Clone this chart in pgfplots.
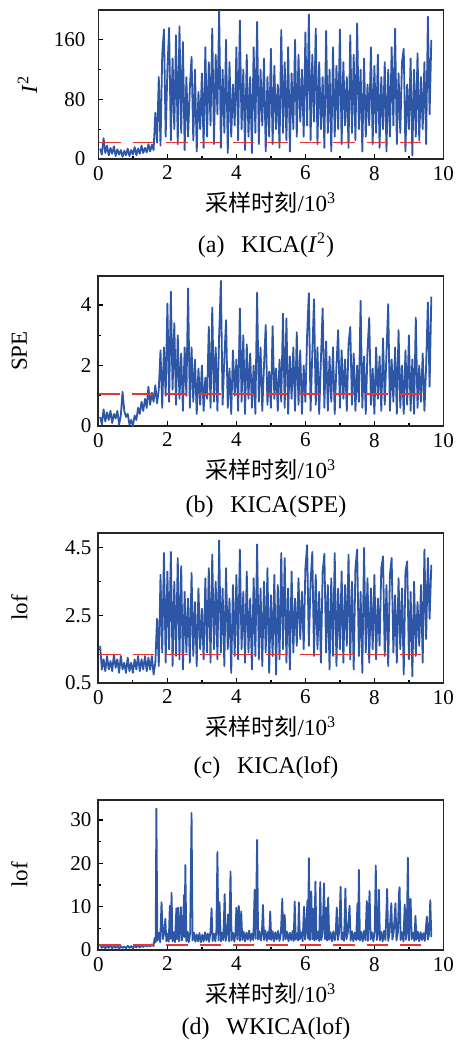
\documentclass[border=0pt]{standalone}
\usepackage{fontspec}
\setmainfont{Liberation Serif}
\newfontfamily\cjk{Noto Sans CJK SC}
\usepackage{pgfplots}
\pgfplotsset{compat=1.18}

\definecolor{lineblue}{HTML}{2D56A6}
\definecolor{limred}{HTML}{E63535}

\pgfplotsset{
  panel/.style={
    scale only axis,
    width=172.5pt, height=75pt,
    xmin=0, xmax=10,
    xtick={0,2,...,10},
    minor x tick num=1, minor y tick num=1,
    tick align=inside, tick pos=left,
    major tick length=2.5pt, minor tick length=1.5pt,
    tick style={line width=0.6pt, black},
    axis line style={line width=0.9pt, black!85},
    tick label style={font=\fontsize{10.5}{12}\selectfont},
    /pgf/number format/assume math mode=true,
    xlabel={{\cjk 采样时刻}/10\textsuperscript{3}},
    label style={font=\fontsize{11.5}{13}\selectfont},
    xlabel style={at={(axis description cs:0.5,0)}, anchor=center, yshift=-22pt},
    ylabel style={at={(axis description cs:-0.229,0.5)}, anchor=center},
    anchor=south west,
  },
  sig/.style={lineblue, line width=0.9pt, line join=round},
  lim/.style={limred, line width=0.8pt, dash pattern=on 10.7pt off 6pt},
}

\begin{document}
\begin{tikzpicture}[font=\fontsize{12}{14}\selectfont]
\path[use as bounding box] (0,0) rectangle (228pt,-522pt);

%--------------------------------------------------
% (a) KICA(I^2)
%--------------------------------------------------
\begin{axis}[panel, at={(49.2pt,-79.5pt)}, height=74.5pt,
    ymin=0, ymax=200, ytick={0,80,160},
    ylabel={\textit{I}\textsuperscript{2}},
    ylabel style={at={(axis description cs:-0.206,0.5)}},
    yticklabel style={xshift=-3pt}]
\addplot[sig] coordinates {
(0.05,14)(0.10,6)(0.15,28)(0.20,8)(0.25,18)(0.30,5)(0.35,15)(0.40,7)(0.45,17)(0.50,4)
(0.55,13)(0.60,6)(0.65,12)(0.70,3)(0.75,11)(0.80,5)(0.85,14)(0.90,4)(0.95,12)(1.00,6)
(1.05,16)(1.10,5)(1.15,14)(1.20,7)(1.25,18)(1.30,8)(1.35,15)(1.40,9)(1.45,20)(1.50,10)
(1.55,19)(1.60,12)(1.65,62)(1.70,22)(1.75,110)(1.80,18)(1.85,140)(1.90,174)(1.95,30)(2.00,120)
(2.05,176)(2.10,25)(2.15,135)(2.20,40)(2.25,166)(2.30,20)(2.35,178)(2.40,35)(2.45,157)(2.50,12)
(2.55,110)(2.60,30)(2.65,95)(2.70,137)(2.75,25)(2.80,120)(2.85,10)(2.90,90)(2.95,40)(3.00,115)
(3.05,15)(3.10,150)(3.15,30)(3.20,130)(3.25,45)(3.30,175)(3.35,20)(3.40,140)(3.45,60)(3.50,199)
(3.55,15)(3.60,120)(3.65,35)(3.70,160)(3.75,8)(3.80,130)(3.85,30)(3.90,100)(3.95,45)(4.00,150)
(4.05,25)(4.10,186)(4.15,40)(4.20,120)(4.25,12)(4.30,140)(4.35,30)(4.40,110)(4.45,8)(4.50,150)
(4.55,35)(4.60,184)(4.65,20)(4.70,120)(4.75,45)(4.80,135)(4.85,10)(4.90,110)(4.95,30)(5.00,148)
(5.05,20)(5.10,125)(5.15,40)(5.20,100)(5.25,15)(5.30,173)(5.35,35)(5.40,130)(5.45,25)(5.50,150)
(5.55,10)(5.60,115)(5.65,40)(5.70,160)(5.75,30)(5.80,140)(5.85,50)(5.90,120)(5.95,30)(6.00,170)
(6.05,45)(6.10,194)(6.15,25)(6.20,140)(6.25,50)(6.30,175)(6.35,20)(6.40,130)(6.45,40)(6.50,110)
(6.55,15)(6.60,172)(6.65,35)(6.70,120)(6.75,10)(6.80,150)(6.85,30)(6.90,125)(6.95,40)(7.00,174)
(7.05,20)(7.10,130)(7.15,45)(7.20,110)(7.25,15)(7.30,166)(7.35,35)(7.40,140)(7.45,25)(7.50,182)
(7.55,40)(7.60,120)(7.65,10)(7.70,135)(7.75,30)(7.80,100)(7.85,45)(7.90,150)(7.95,20)(8.00,125)
(8.05,35)(8.10,140)(8.15,15)(8.20,110)(8.25,40)(8.30,130)(8.35,10)(8.40,120)(8.45,30)(8.50,150)
(8.55,45)(8.60,175)(8.65,20)(8.70,115)(8.75,35)(8.80,130)(8.85,148)(8.90,10)(8.95,100)(9.00,40)
(9.05,135)(9.10,5)(9.15,120)(9.20,30)(9.25,142)(9.30,25)(9.35,110)(9.40,40)(9.45,130)(9.50,20)
(9.55,191)(9.60,60)(9.65,160)
};
\addplot[lim] coordinates {(0.03,22) (9.36,22)};
\end{axis}
\node at (133pt,-122.5pt) {(a)\hspace{0.7em}KICA(\textit{I}\textsuperscript{2})};

%--------------------------------------------------
% (b) KICA(SPE)
%--------------------------------------------------
\begin{axis}[panel, at={(49.2pt,-213pt)},
    ymin=0, ymax=4.96, ytick={0,2,4},
    ylabel={SPE}]
\addplot[sig] coordinates {
(0.05,0.3)(0.10,0.05)(0.15,0.55)(0.20,0.15)(0.25,0.45)(0.30,0.2)(0.35,0.5)(0.40,0.1)(0.45,0.4)(0.50,0.25)
(0.55,0.5)(0.60,0.05)(0.65,0.35)(0.70,1.13)(0.75,0.5)(0.80,0.3)(0.85,0.4)(0.90,0.05)(0.95,0.2)(1.00,0.0)
(1.05,0.35)(1.10,0.2)(1.15,0.6)(1.20,0.4)(1.25,0.8)(1.30,0.5)(1.35,0.9)(1.40,0.6)(1.45,1.3)(1.50,0.7)
(1.55,1.1)(1.60,0.8)(1.65,1.35)(1.70,0.75)(1.75,1.2)(1.80,2.5)(1.85,0.6)(1.90,2.6)(1.95,1.0)(2.00,4.05)
(2.05,0.8)(2.10,4.44)(2.15,1.2)(2.20,3.4)(2.25,0.7)(2.30,3.0)(2.35,0.9)(2.40,2.4)(2.45,0.5)(2.50,2.6)
(2.55,1.0)(2.60,4.55)(2.65,0.6)(2.70,2.6)(2.75,0.8)(2.80,2.2)(2.85,0.4)(2.90,1.9)(2.95,0.7)(3.00,2.0)
(3.05,0.5)(3.10,1.6)(3.15,0.9)(3.20,3.28)(3.25,0.6)(3.30,3.92)(3.35,0.8)(3.40,2.6)(3.45,0.5)(3.50,3.0)
(3.55,4.8)(3.60,0.7)(3.65,2.2)(3.70,3.5)(3.75,0.6)(3.80,1.9)(3.85,0.4)(3.90,2.5)(3.95,1.0)(4.00,2.2)
(4.05,0.5)(4.10,3.89)(4.15,0.8)(4.20,3.0)(4.25,0.4)(4.30,2.7)(4.35,0.9)(4.40,2.4)(4.45,0.6)(4.50,2.0)
(4.55,0.4)(4.60,4.41)(4.65,0.8)(4.70,2.6)(4.75,0.5)(4.80,2.0)(4.85,3.34)(4.90,0.7)(4.95,1.8)(5.00,0.6)
(5.05,3.3)(5.10,0.9)(5.15,1.9)(5.20,0.5)(5.25,2.2)(5.30,0.8)(5.35,3.72)(5.40,0.6)(5.45,3.56)(5.50,0.4)
(5.55,2.3)(5.60,0.9)(5.65,2.6)(5.70,0.5)(5.75,3.1)(5.80,0.7)(5.85,2.5)(5.90,0.4)(5.95,2.0)(6.00,0.8)
(6.05,3.0)(6.10,4.39)(6.15,0.5)(6.20,2.4)(6.25,4.19)(6.30,0.7)(6.35,2.6)(6.40,0.4)(6.45,2.2)(6.50,3.89)
(6.55,0.6)(6.60,2.8)(6.65,0.5)(6.70,2.3)(6.75,0.8)(6.80,2.6)(6.85,0.4)(6.90,2.0)(6.95,3.17)(7.00,0.6)
(7.05,2.5)(7.10,0.9)(7.15,2.2)(7.20,0.5)(7.25,2.7)(7.30,3.28)(7.35,0.7)(7.40,2.4)(7.45,0.5)(7.50,2.0)
(7.55,0.8)(7.60,4.14)(7.65,0.6)(7.70,2.3)(7.75,0.4)(7.80,2.5)(7.85,3.58)(7.90,0.7)(7.95,1.9)(8.00,0.4)
(8.05,2.6)(8.10,0.9)(8.15,2.3)(8.20,0.5)(8.25,2.9)(8.30,0.7)(8.35,2.4)(8.40,4.03)(8.45,0.5)(8.50,2.2)
(8.55,0.8)(8.60,2.6)(8.65,0.4)(8.70,3.17)(8.75,0.6)(8.80,2.0)(8.85,0.4)(8.90,2.5)(8.95,0.7)(9.00,3.0)
(9.05,0.5)(9.10,2.2)(9.15,0.4)(9.20,3.58)(9.25,0.6)(9.30,2.0)(9.35,0.8)(9.40,2.4)(9.45,0.5)(9.50,2.0)
(9.55,4.09)(9.60,1.3)(9.65,4.28)
};
\addplot[lim] coordinates {(0.02,1.06) (9.45,1.06)};
\end{axis}
\node at (133pt,-253.5pt) {(b)\hspace{0.7em}KICA(SPE)};

%--------------------------------------------------
% (c) KICA(lof)
%--------------------------------------------------
\begin{axis}[panel, at={(49.2pt,-341.5pt)},
    ymin=0.5, ymax=4.94, ytick={0.5,2.5,4.5},
    yticklabel style={/pgf/number format/.cd, fixed, fixed zerofill, precision=1},
    ylabel={lof}]
\addplot[sig] coordinates {
(0.05,1.6)(0.10,0.9)(0.15,1.2)(0.20,0.85)(0.25,1.3)(0.30,0.9)(0.35,1.15)(0.40,0.85)(0.45,1.35)(0.50,0.95)
(0.55,1.2)(0.60,0.8)(0.65,1.3)(0.70,0.9)(0.75,1.1)(0.80,0.8)(0.85,1.25)(0.90,0.85)(0.95,1.1)(1.00,0.8)
(1.05,1.2)(1.10,0.9)(1.15,1.3)(1.20,0.85)(1.25,1.2)(1.30,0.9)(1.35,1.3)(1.40,0.85)(1.45,1.25)(1.50,0.9)
(1.55,1.3)(1.60,0.75)(1.65,1.1)(1.70,2.4)(1.75,1.0)(1.80,3.7)(1.85,1.4)(1.90,4.35)(1.95,1.1)(2.00,3.8)
(2.05,1.5)(2.10,4.38)(2.15,1.0)(2.20,3.5)(2.25,1.3)(2.30,4.2)(2.35,1.2)(2.40,3.96)(2.45,0.9)(2.50,3.2)
(2.55,1.4)(2.60,3.0)(2.65,1.1)(2.70,3.76)(2.75,1.3)(2.80,2.9)(2.85,1.0)(2.90,3.3)(2.95,1.5)(3.00,2.7)
(3.05,1.2)(3.10,3.6)(3.15,1.4)(3.20,3.9)(3.25,1.1)(3.30,4.3)(3.35,1.5)(3.40,3.5)(3.45,1.2)(3.50,4.72)
(3.55,1.4)(3.60,3.3)(3.65,1.0)(3.70,3.9)(3.75,1.5)(3.80,3.0)(3.85,0.8)(3.90,3.4)(3.95,1.3)(4.00,3.7)
(4.05,1.2)(4.10,4.45)(4.15,1.5)(4.20,3.2)(4.25,1.1)(4.30,3.8)(4.35,1.4)(4.40,3.0)(4.45,0.9)(4.50,3.6)
(4.55,1.3)(4.60,4.6)(4.65,1.2)(4.70,3.3)(4.75,1.0)(4.80,3.5)(4.85,1.4)(4.90,3.9)(4.95,0.8)(5.00,3.1)
(5.05,1.3)(5.10,3.7)(5.15,0.75)(5.20,3.4)(5.25,1.2)(5.30,4.35)(5.35,1.5)(5.40,4.2)(5.45,1.1)(5.50,3.3)
(5.55,0.9)(5.60,3.8)(5.65,1.4)(5.70,3.0)(5.75,1.6)(5.80,3.6)(5.85,1.8)(5.90,3.2)(5.95,1.5)(6.00,3.9)
(6.05,4.58)(6.10,1.6)(6.15,3.5)(6.20,4.38)(6.25,1.3)(6.30,3.7)(6.35,1.5)(6.40,3.2)(6.45,1.1)(6.50,3.8)
(6.55,4.32)(6.60,1.4)(6.65,3.4)(6.70,0.9)(6.75,3.6)(6.80,1.3)(6.85,4.35)(6.90,1.0)(6.95,3.3)(7.00,1.5)
(7.05,3.8)(7.10,1.1)(7.15,3.4)(7.20,1.6)(7.25,4.3)(7.30,1.2)(7.35,3.5)(7.40,0.9)(7.45,3.9)(7.50,4.45)
(7.55,1.3)(7.60,3.2)(7.65,0.8)(7.70,4.5)(7.75,1.4)(7.80,3.6)(7.85,1.1)(7.90,3.3)(7.95,1.5)(8.00,3.7)
(8.05,1.2)(8.10,3.0)(8.15,1.6)(8.20,3.9)(8.25,4.25)(8.30,1.3)(8.35,3.4)(8.40,1.0)(8.45,3.7)(8.50,4.2)
(8.55,1.4)(8.60,3.1)(8.65,1.1)(8.70,3.6)(8.75,1.5)(8.80,3.3)(8.85,0.75)(8.90,3.8)(8.95,4.1)(9.00,1.2)
(9.05,3.2)(9.10,0.7)(9.15,3.5)(9.20,1.3)(9.25,2.9)(9.30,1.6)(9.35,3.4)(9.40,1.1)(9.45,4.45)(9.50,1.8)
(9.55,4.2)(9.60,2.4)(9.65,4.0)
};
\addplot[lim] coordinates {(0.03,1.34) (9.45,1.34)};
\end{axis}
\node at (133pt,-384pt) {(c)\hspace{0.7em}KICA(lof)};

%--------------------------------------------------
% (d) WKICA(lof)
%--------------------------------------------------
\begin{axis}[panel, at={(49.2pt,-475pt)},
    ymin=0, ymax=34.6, ytick={0,10,20,30},
    ylabel={lof}]
\addplot[sig] coordinates {
(0.05,1.2)(0.10,0.5)(0.15,1.0)(0.20,0.4)(0.25,0.9)(0.30,0.5)(0.35,1.1)(0.40,0.4)(0.45,0.8)(0.50,0.5)
(0.55,1.0)(0.60,0.3)(0.65,0.9)(0.70,0.5)(0.75,0.8)(0.80,0.4)(0.85,1.0)(0.90,0.5)(0.95,0.9)(1.00,0.4)
(1.05,1.0)(1.10,0.6)(1.15,1.1)(1.20,0.6)(1.25,1.0)(1.30,0.7)(1.35,1.2)(1.40,0.8)(1.45,1.1)(1.50,0.8)
(1.55,1.3)(1.60,0.9)(1.63,2.8)(1.66,1.8)(1.68,32.6)(1.71,2.2)(1.75,4.0)(1.79,1.8)(1.83,11.0)(1.87,2.5)
(1.91,4.2)(1.94,7.2)(1.97,2.0)(2.01,3.8)(2.04,1.9)(2.07,10.2)(2.10,2.6)(2.12,13.2)(2.15,2.0)(2.19,4.1)
(2.22,1.8)(2.26,9.6)(2.28,2.5)(2.31,9.8)(2.34,2.0)(2.36,4.3)(2.39,9.9)(2.42,2.2)(2.45,4.0)(2.48,12.7)
(2.50,3.0)(2.52,19.6)(2.55,2.0)(2.59,4.2)(2.62,1.8)(2.66,3.9)(2.70,31.6)(2.73,2.2)(2.77,4.0)(2.81,1.9)
(2.85,3.6)(2.89,2.0)(2.93,3.9)(2.97,1.8)(3.01,3.5)(3.05,2.0)(3.09,4.1)(3.13,2.2)(3.17,3.8)(3.21,1.9)
(3.25,4.4)(3.28,9.6)(3.31,2.1)(3.35,3.8)(3.39,2.0)(3.42,4.5)(3.45,22.6)(3.48,2.2)(3.51,11.0)(3.55,2.0)
(3.59,4.0)(3.62,2.3)(3.66,12.9)(3.69,2.1)(3.73,3.8)(3.76,8.2)(3.79,2.0)(3.83,18.1)(3.86,2.2)(3.90,4.0)
(3.94,1.9)(3.97,3.7)(4.00,9.8)(4.03,2.4)(4.07,10.2)(4.10,2.1)(4.14,8.9)(4.17,2.3)(4.21,4.2)(4.25,2.0)
(4.29,4.0)(4.33,2.4)(4.37,4.5)(4.41,2.1)(4.45,3.8)(4.49,2.3)(4.53,13.9)(4.56,2.6)(4.60,25.4)(4.63,2.4)
(4.67,4.3)(4.71,2.2)(4.74,4.0)(4.77,10.4)(4.80,2.3)(4.84,4.5)(4.88,2.1)(4.92,4.2)(4.95,2.5)(4.98,8.9)
(5.01,2.3)(5.05,4.3)(5.09,2.0)(5.13,4.1)(5.17,2.4)(5.21,4.4)(5.25,2.1)(5.29,3.9)(5.33,11.8)(5.36,2.2)
(5.40,8.1)(5.43,2.5)(5.47,4.2)(5.51,2.0)(5.55,4.0)(5.59,2.3)(5.63,4.4)(5.66,2.1)(5.69,11.2)(5.72,2.4)
(5.76,3.9)(5.79,2.2)(5.81,11.0)(5.84,2.5)(5.88,4.1)(5.92,2.0)(5.96,10.0)(5.99,2.4)(6.02,4.3)(6.06,11.5)
(6.08,2.6)(6.10,21.2)(6.13,2.3)(6.17,13.5)(6.20,2.5)(6.23,9.5)(6.26,2.2)(6.29,15.8)(6.32,2.4)(6.36,4.2)
(6.40,2.1)(6.43,15.7)(6.46,2.3)(6.50,4.0)(6.54,15.4)(6.57,2.5)(6.61,9.8)(6.63,2.2)(6.66,12.1)(6.69,2.4)
(6.73,4.1)(6.77,2.0)(6.81,4.3)(6.85,2.2)(6.88,4.0)(6.91,9.8)(6.94,2.3)(6.98,4.2)(7.02,14.6)(7.05,2.4)
(7.09,4.0)(7.12,2.1)(7.16,14.2)(7.19,2.5)(7.23,4.1)(7.28,10.2)(7.31,2.2)(7.35,4.3)(7.39,2.0)(7.43,4.0)
(7.47,2.3)(7.51,10.8)(7.53,2.5)(7.55,18.5)(7.58,2.2)(7.62,4.2)(7.66,2.0)(7.70,4.4)(7.74,2.3)(7.78,11.3)
(7.81,2.1)(7.86,13.6)(7.89,2.4)(7.93,4.1)(7.97,2.0)(8.01,4.3)(8.04,19.5)(8.07,2.3)(8.10,4.0)(8.13,13.9)
(8.16,2.2)(8.20,4.2)(8.24,2.0)(8.28,4.4)(8.32,2.3)(8.37,14.1)(8.40,2.1)(8.44,4.0)(8.49,10.8)(8.52,2.4)
(8.56,4.2)(8.61,10.8)(8.64,2.2)(8.68,4.0)(8.71,12.9)(8.73,14.5)(8.76,2.3)(8.80,4.1)(8.84,2.0)(8.88,10.5)
(8.91,2.4)(8.94,4.2)(8.97,21.3)(9.00,2.2)(9.05,11.8)(9.08,2.5)(9.12,4.0)(9.16,2.1)(9.19,7.9)(9.22,2.4)
(9.26,4.2)(9.30,2.0)(9.34,4.1)(9.38,2.3)(9.42,3.9)(9.46,2.1)(9.52,7.7)(9.55,2.4)(9.58,3.5)(9.62,11.5)
(9.65,3.0)
};
\addplot[lim] coordinates {(0.03,1.2) (9.36,1.2)};
\end{axis}
\node at (133pt,-514.5pt) {(d)\hspace{0.7em}WKICA(lof)};
\end{tikzpicture}
\end{document}
